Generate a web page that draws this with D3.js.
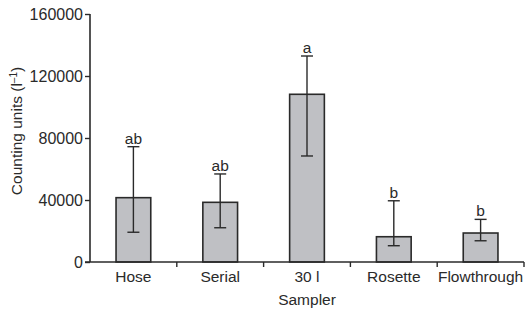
<!DOCTYPE html>
<html>
<head>
<meta charset="utf-8">
<script src="https://cdn.jsdelivr.net/npm/d3@7"></script>
<style>
  body { margin: 0; background: #fff; }
  text { font-family: "Liberation Sans", Arial, sans-serif; fill: #2a2a2a; }
</style>
</head>
<body>
<div id="chart"></div>
<script>
// data
const samplers = ["Hose", "Serial", "30 l", "Rosette", "Flowthrough"];
const means    = [41500, 38500, 108200, 16300, 18700];
const errHigh  = [74400, 56800, 132900, 39500, 27500];
const errLow   = [19200, 22100, 68400, 10500, 13700];
const letters  = ["ab", "ab", "a", "b", "b"];
const yTicks   = [0, 40000, 80000, 120000, 160000];

const W = 527, H = 315;
const plotLeft = 90, plotRight = 524, plotTop = 14, plotBottom = 262;
const fs = 15.5;

let svg = d3.select("#chart").append("svg")
    .attr("width", W)
    .attr("height", H);

const x = d3.scaleBand()
    .domain(samplers)
    .range([plotLeft, plotRight])
    .paddingInner(0.6)
    .paddingOuter(0.3);

const y = d3.scaleLinear()
    .domain([0, 160000])
    .range([plotBottom, plotTop]);

// bars
svg.selectAll("rect.bar")
    .data(samplers)
    .enter().append("rect")
    .attr("class", "bar")
    .attr("x", d => x(d))
    .attr("y", (d, i) => y(means[i]))
    .attr("width", x.bandwidth())
    .attr("height", (d, i) => y(0) - y(means[i]))
    .attr("fill", "#bfc0c4")
    .attr("stroke", "#2a2a2a")
    .attr("stroke-width", 1.6);

// error bars
const cap = 6;
samplers.forEach((d, i) => {
    const cx = x(d) + x.bandwidth() / 2;
    const g = svg.append("g").attr("stroke", "#2a2a2a").attr("stroke-width", 1.4);
    g.append("line").attr("x1", cx).attr("x2", cx).attr("y1", y(errLow[i])).attr("y2", y(errHigh[i]));
    g.append("line").attr("x1", cx - cap).attr("x2", cx + cap).attr("y1", y(errHigh[i])).attr("y2", y(errHigh[i]));
    g.append("line").attr("x1", cx - cap).attr("x2", cx + cap).attr("y1", y(errLow[i])).attr("y2", y(errLow[i]));

    svg.append("text")
        .attr("x", cx)
        .attr("y", y(errHigh[i]) - 3)
        .attr("text-anchor", "middle")
        .attr("font-size", fs)
        .text(letters[i]);
});

// y axis
const yAxis = svg.append("g")
    .attr("transform", `translate(${plotLeft},0)`)
    .call(d3.axisLeft(y).tickValues(yTicks).tickFormat(d3.format("d")).tickSize(5).tickPadding(2));
yAxis.selectAll("text").attr("font-size", 16).style("font-family", "Liberation Sans, Arial, sans-serif").attr("fill", "#2a2a2a");
yAxis.selectAll("line").attr("stroke", "#2a2a2a").attr("stroke-width", 1.4);
yAxis.select(".domain").attr("d", `M0,${plotTop}V${plotBottom}`).attr("stroke", "#2a2a2a").attr("stroke-width", 1.6);

// x axis: ticks at the boundaries between categories
const step = x.step();
const bounds = d3.range(samplers.length + 1).map(k => plotLeft + k * step);
const xg = svg.append("g");
xg.append("line")
    .attr("x1", plotLeft - 5).attr("x2", plotRight)
    .attr("y1", plotBottom).attr("y2", plotBottom)
    .attr("stroke", "#2a2a2a").attr("stroke-width", 1.6);
xg.selectAll("line.tick")
    .data(bounds.slice(1))
    .enter().append("line")
    .attr("class", "tick")
    .attr("x1", d => d).attr("x2", d => d)
    .attr("y1", plotBottom).attr("y2", plotBottom + 5)
    .attr("stroke", "#2a2a2a").attr("stroke-width", 1.4);
xg.selectAll("text")
    .data(samplers)
    .enter().append("text")
    .attr("x", d => x(d) + x.bandwidth() / 2)
    .attr("y", 281.5)
    .attr("text-anchor", "middle")
    .attr("font-size", fs)
    .text(d => d);

// axis titles
svg.append("text")
    .attr("x", (plotLeft + plotRight) / 2)
    .attr("y", 305)
    .attr("text-anchor", "middle")
    .attr("font-size", fs)
    .text("Sampler");

const yl = svg.append("text")
    .attr("transform", "translate(22,131) rotate(-90)")
    .attr("text-anchor", "middle")
    .attr("font-size", fs);
yl.append("tspan").text("Counting units (l");
yl.append("tspan").attr("baseline-shift", "super").attr("font-size", 10).text("\u20131");
yl.append("tspan").text(")");
</script>
</body>
</html>
